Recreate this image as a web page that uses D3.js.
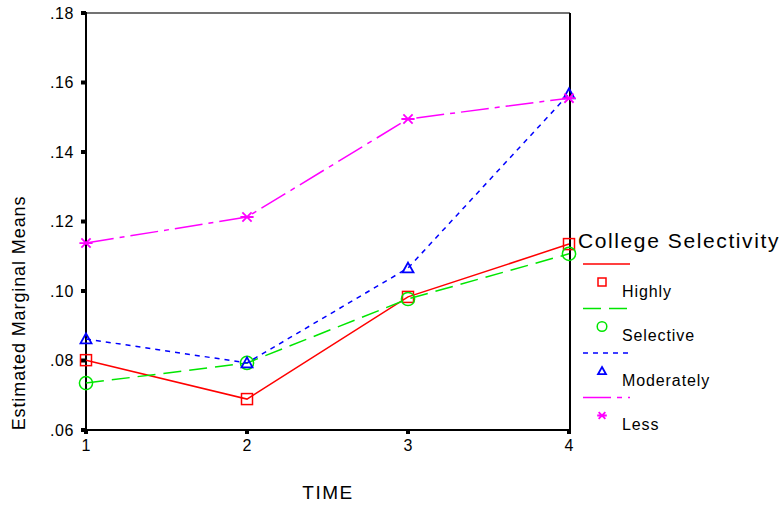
<!DOCTYPE html>
<html><head><meta charset="utf-8">
<script src="https://cdn.jsdelivr.net/npm/d3@7"></script>
<style>body{margin:0;background:#fff}svg{display:block;font-family:"Liberation Sans",Arial,sans-serif}</style>
</head><body><svg id="c" width="780" height="506"></svg>
<script>
const times = [1, 2, 3, 4];
const yTicks = [0.06, 0.08, 0.10, 0.12, 0.14, 0.16, 0.18];
const seriesNames = ["Highly", "Selective", "Moderately", "Less"];
const highly = [0.0801, 0.0689, 0.0983, 0.1135];
const selective = [0.0735, 0.0793, 0.0977, 0.1107];
const moderately = [0.0862, 0.0793, 0.1066, 0.1567];
const less = [0.1138, 0.1213, 0.1495, 0.1555];
const seriesValues = [highly, selective, moderately, less];
const colors = ["#ff0000", "#00e600", "#0000ff", "#ff00ff"];
const dashes = [null, "18,8", "5,5", "28,6,5,6"];
const markers = ["square", "circle", "triangle", "star"];

const svg = d3.select("#c");
const x = d3.scaleLinear().domain([1, 4]).range([86, 569]);
const y = d3.scaleLinear().domain([0.06, 0.18]).range([430, 13]);
const fmt = v => d3.format(".2f")(v).replace(/^0/, "");

// frame
svg.append("line").attr("x1",86).attr("x2",570).attr("y1",13).attr("y2",13).attr("stroke","#444").attr("stroke-width",1.5);
svg.append("line").attr("x1",570).attr("x2",570).attr("y1",13).attr("y2",431).attr("stroke","#000").attr("stroke-width",2);
svg.append("line").attr("x1",86).attr("x2",86).attr("y1",12).attr("y2",431).attr("stroke","#000").attr("stroke-width",2);
svg.append("line").attr("x1",85).attr("x2",571).attr("y1",430).attr("y2",430).attr("stroke","#000").attr("stroke-width",2);

// y ticks
const yg = svg.append("g");
yTicks.forEach(t => {
  yg.append("rect").attr("x",81).attr("y",y(t)-2).attr("width",5).attr("height",4).attr("fill","#000");
  yg.append("text").attr("x",74).attr("y",y(t)+5.5).attr("text-anchor","end")
    .attr("font-size",16).attr("letter-spacing",0.6).text(fmt(t));
});
// x ticks
times.forEach(t => {
  svg.append("rect").attr("x",x(t)-2).attr("y",430).attr("width",4).attr("height",4).attr("fill","#000");
  svg.append("text").attr("x",x(t)).attr("y",451).attr("text-anchor","middle").attr("font-size",16).text(t);
});

function marker(g, type, cx, cy, color, s) {
  if (type === "square") g.append("rect").attr("x",cx-s/2).attr("y",cy-s/2).attr("width",s).attr("height",s).attr("fill","none").attr("stroke",color).attr("stroke-width",1.5);
  else if (type === "circle") g.append("circle").attr("cx",cx).attr("cy",cy).attr("r",s*0.6).attr("fill","none").attr("stroke",color).attr("stroke-width",1.5);
  else if (type === "triangle") g.append("path").attr("d",`M${cx},${cy-s*0.5}L${cx+s*0.5},${cy+s*0.4}L${cx-s*0.5},${cy+s*0.4}Z`).attr("fill","none").attr("stroke",color).attr("stroke-width",1.8);
  else {
    const r = s*0.6, d = s*0.42;
    g.append("path").attr("d",`M${cx-r},${cy}L${cx+r},${cy}M${cx-d},${cy-d}L${cx+d},${cy+d}M${cx-d},${cy+d}L${cx+d},${cy-d}`).attr("stroke",color).attr("stroke-width",1.8);
  }
}

const line = d3.line().x((d,i) => x(times[i])).y(d => y(d));
seriesValues.forEach((vals, k) => {
  const g = svg.append("g");
  g.append("path").attr("d", line(vals)).attr("fill","none").attr("stroke",colors[k]).attr("stroke-width",1.5)
    .attr("stroke-dasharray", dashes[k]);
  vals.forEach((v,i) => marker(g, markers[k], x(times[i]), y(v), colors[k], 11));
});

// axis titles
svg.append("text").attr("x",328).attr("y",499).attr("text-anchor","middle").attr("font-size",19).attr("letter-spacing",1.5).text("TIME");
svg.append("text").attr("transform","translate(25,313) rotate(-90)").attr("text-anchor","middle").attr("font-size",18).attr("letter-spacing",0.9).text("Estimated Marginal Means");

// legend
const lg = svg.append("g");
lg.append("text").attr("x",578).attr("y",248).attr("font-size",21).attr("letter-spacing",1.6).text("College Selectivity");
seriesNames.forEach((n,k) => {
  const base = 264 + k*44.5;
  lg.append("line").attr("x1",583).attr("x2",630).attr("y1",base).attr("y2",base).attr("stroke",colors[k]).attr("stroke-width",1.5).attr("stroke-dasharray",dashes[k]);
  marker(lg, markers[k], 602, base+18, colors[k], 8);
  lg.append("text").attr("x",622).attr("y",base+32.5).attr("font-size",16).attr("letter-spacing",0.9).text(n);
});
</script></body></html>
